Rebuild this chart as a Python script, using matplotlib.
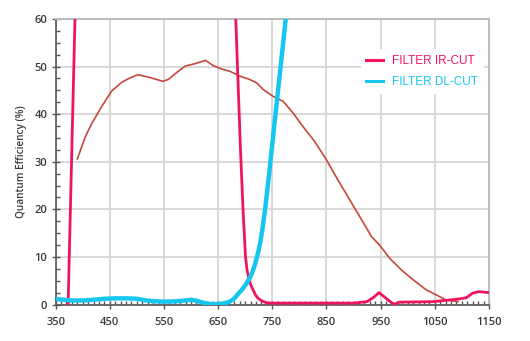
import matplotlib
matplotlib.use("Agg")
import matplotlib.pyplot as plt
from matplotlib.ticker import MultipleLocator
from matplotlib.lines import Line2D

# Sensor quantum efficiency (%)
qe_wl = [390, 405, 417, 435, 453, 472, 487, 502, 524, 548, 558, 573, 589, 607,
         627, 641, 656, 672, 690, 708, 721, 733, 752, 770, 788, 804, 828, 850,
         871, 893, 915, 933, 948, 967, 988, 1010, 1034, 1053, 1071, 1093]
qe_val = [30.6, 35.3, 38.1, 41.6, 44.8, 46.7, 47.6, 48.3, 47.7, 46.9, 47.3, 48.7,
          50.1, 50.6, 51.3, 50.2, 49.5, 49.0, 48.0, 47.3, 46.6, 45.2, 43.7, 42.7,
          40.3, 37.8, 34.3, 30.4, 26.2, 22.0, 17.8, 14.3, 12.5, 9.7, 7.3, 5.2,
          3.1, 2.0, 0.95, 0.6]

# IR-cut filter transmission (%)
ir_wl = [373, 392, 673, 682.6, 687, 691.3, 696, 700.5, 703.5, 706.6, 710,
         714.6, 719, 723.8, 730, 739, 750, 800, 900, 925, 937, 947,
         958, 970, 976, 985, 1047, 1090, 1108, 1120, 1132, 1150]
ir_val = [0, 90, 90, 60, 46, 32.5, 19.9, 10.1, 7.2, 5.5, 4.2,
          3.05, 2.0, 1.3, 0.8, 0.38, 0.3, 0.3, 0.3, 0.6, 1.5, 2.5,
          1.5, 0.4, 0.1, 0.5, 0.6, 1.1, 1.4, 2.4, 2.7, 2.5]

# Daylight-cut filter transmission (%)
dl_wl = [350, 365, 380, 400, 420, 440, 460, 480, 500, 515, 530, 550, 570, 590,
         600, 610, 625, 640, 655, 665, 670, 675, 680, 684, 687, 692, 698, 703,
         708.5, 713, 718, 724, 728, 732, 736, 740, 745, 750, 755, 760, 765,
         770, 775, 776.5]
dl_val = [1.15, 1.0, 0.85, 0.85, 1.0, 1.2, 1.3, 1.3, 1.2, 0.9, 0.7, 0.6, 0.65,
          0.85, 1.0, 0.8, 0.3, 0.05, 0.15, 0.35, 0.55, 0.85, 1.3, 1.8, 2.25,
          2.85, 3.7, 4.55, 5.65, 6.75, 8.4, 11.0, 13.2, 16.0, 19.4, 23.2, 28.4,
          33.7, 39.0, 44.3, 49.6, 54.9, 60.2, 61.8]

x_ticks = [350, 450, 550, 650, 750, 850, 950, 1050, 1150]
y_ticks = [0, 10, 20, 30, 40, 50, 60]

IR_COLOR = "#f0145f"
DL_COLOR = "#15c6ee"
QE_COLOR = "#c4493c"
TEXT_COLOR = "#3a3a3a"

fig = plt.figure(figsize=(5.30, 3.41), dpi=100)
ax = fig.add_axes([0.105, 0.107, 0.8175, 0.8373])

ax.set_xlim(350, 1150)
ax.set_ylim(0, 60)

ax.grid(True, which="major", color="#d6d6d6", linewidth=1.3, zorder=0)
ax.set_axisbelow(True)

ax.plot(qe_wl, qe_val, color=QE_COLOR, linewidth=1.2, zorder=3)
ax.plot(ir_wl, ir_val, color=IR_COLOR, linewidth=2.0, zorder=4)
ax.plot(dl_wl, dl_val, color=DL_COLOR, linewidth=3.2, zorder=5,
        solid_capstyle="butt", solid_joinstyle="round")

ax.set_xticks(x_ticks)
ax.set_yticks(y_ticks)
ax.xaxis.set_minor_locator(MultipleLocator(10))
ax.yaxis.set_minor_locator(MultipleLocator(2.5))

ax.tick_params(axis="both", which="major", direction="inout", length=6,
               width=1.0, color="#555555", labelsize=8, labelcolor=TEXT_COLOR)
ax.tick_params(axis="x", which="major", pad=6)
ax.tick_params(axis="y", which="major", pad=3)
ax.tick_params(axis="both", which="minor", direction="in", length=3,
               width=1.0, color="#555555")
ax.tick_params(top=False, right=False, which="both")

for lab in ax.get_xticklabels() + ax.get_yticklabels():
    lab.set_fontfamily("Open Sans")
    lab.set_fontweight("semibold")

for side in ("left", "bottom"):
    ax.spines[side].set_color("#555555")
    ax.spines[side].set_linewidth(1.2)
for side in ("top", "right"):
    ax.spines[side].set_color("#bdbdbd")
    ax.spines[side].set_linewidth(1.5)

ax.set_ylabel("Quantum Efficiency (%)", fontsize=7.2, color=TEXT_COLOR,
              family="Open Sans", fontweight="semibold", labelpad=5)

handles = [Line2D([], [], color=IR_COLOR, linewidth=2.2),
           Line2D([], [], color=DL_COLOR, linewidth=2.2)]
leg = ax.legend(handles, ["FILTER IR-CUT", "FILTER DL-CUT"],
                loc="upper left", bbox_to_anchor=(0.69, 0.915),
                frameon=True, fancybox=False, framealpha=1.0,
                edgecolor="none", facecolor="white",
                handlelength=1.4, handletextpad=0.75, labelspacing=0.75,
                borderpad=0.5,
                prop={"family": "Liberation Sans", "size": 8.5})
for txt, col in zip(leg.get_texts(), [IR_COLOR, DL_COLOR]):
    txt.set_color(col)
leg.set_zorder(6)

fig.savefig("out.png", dpi=100)
